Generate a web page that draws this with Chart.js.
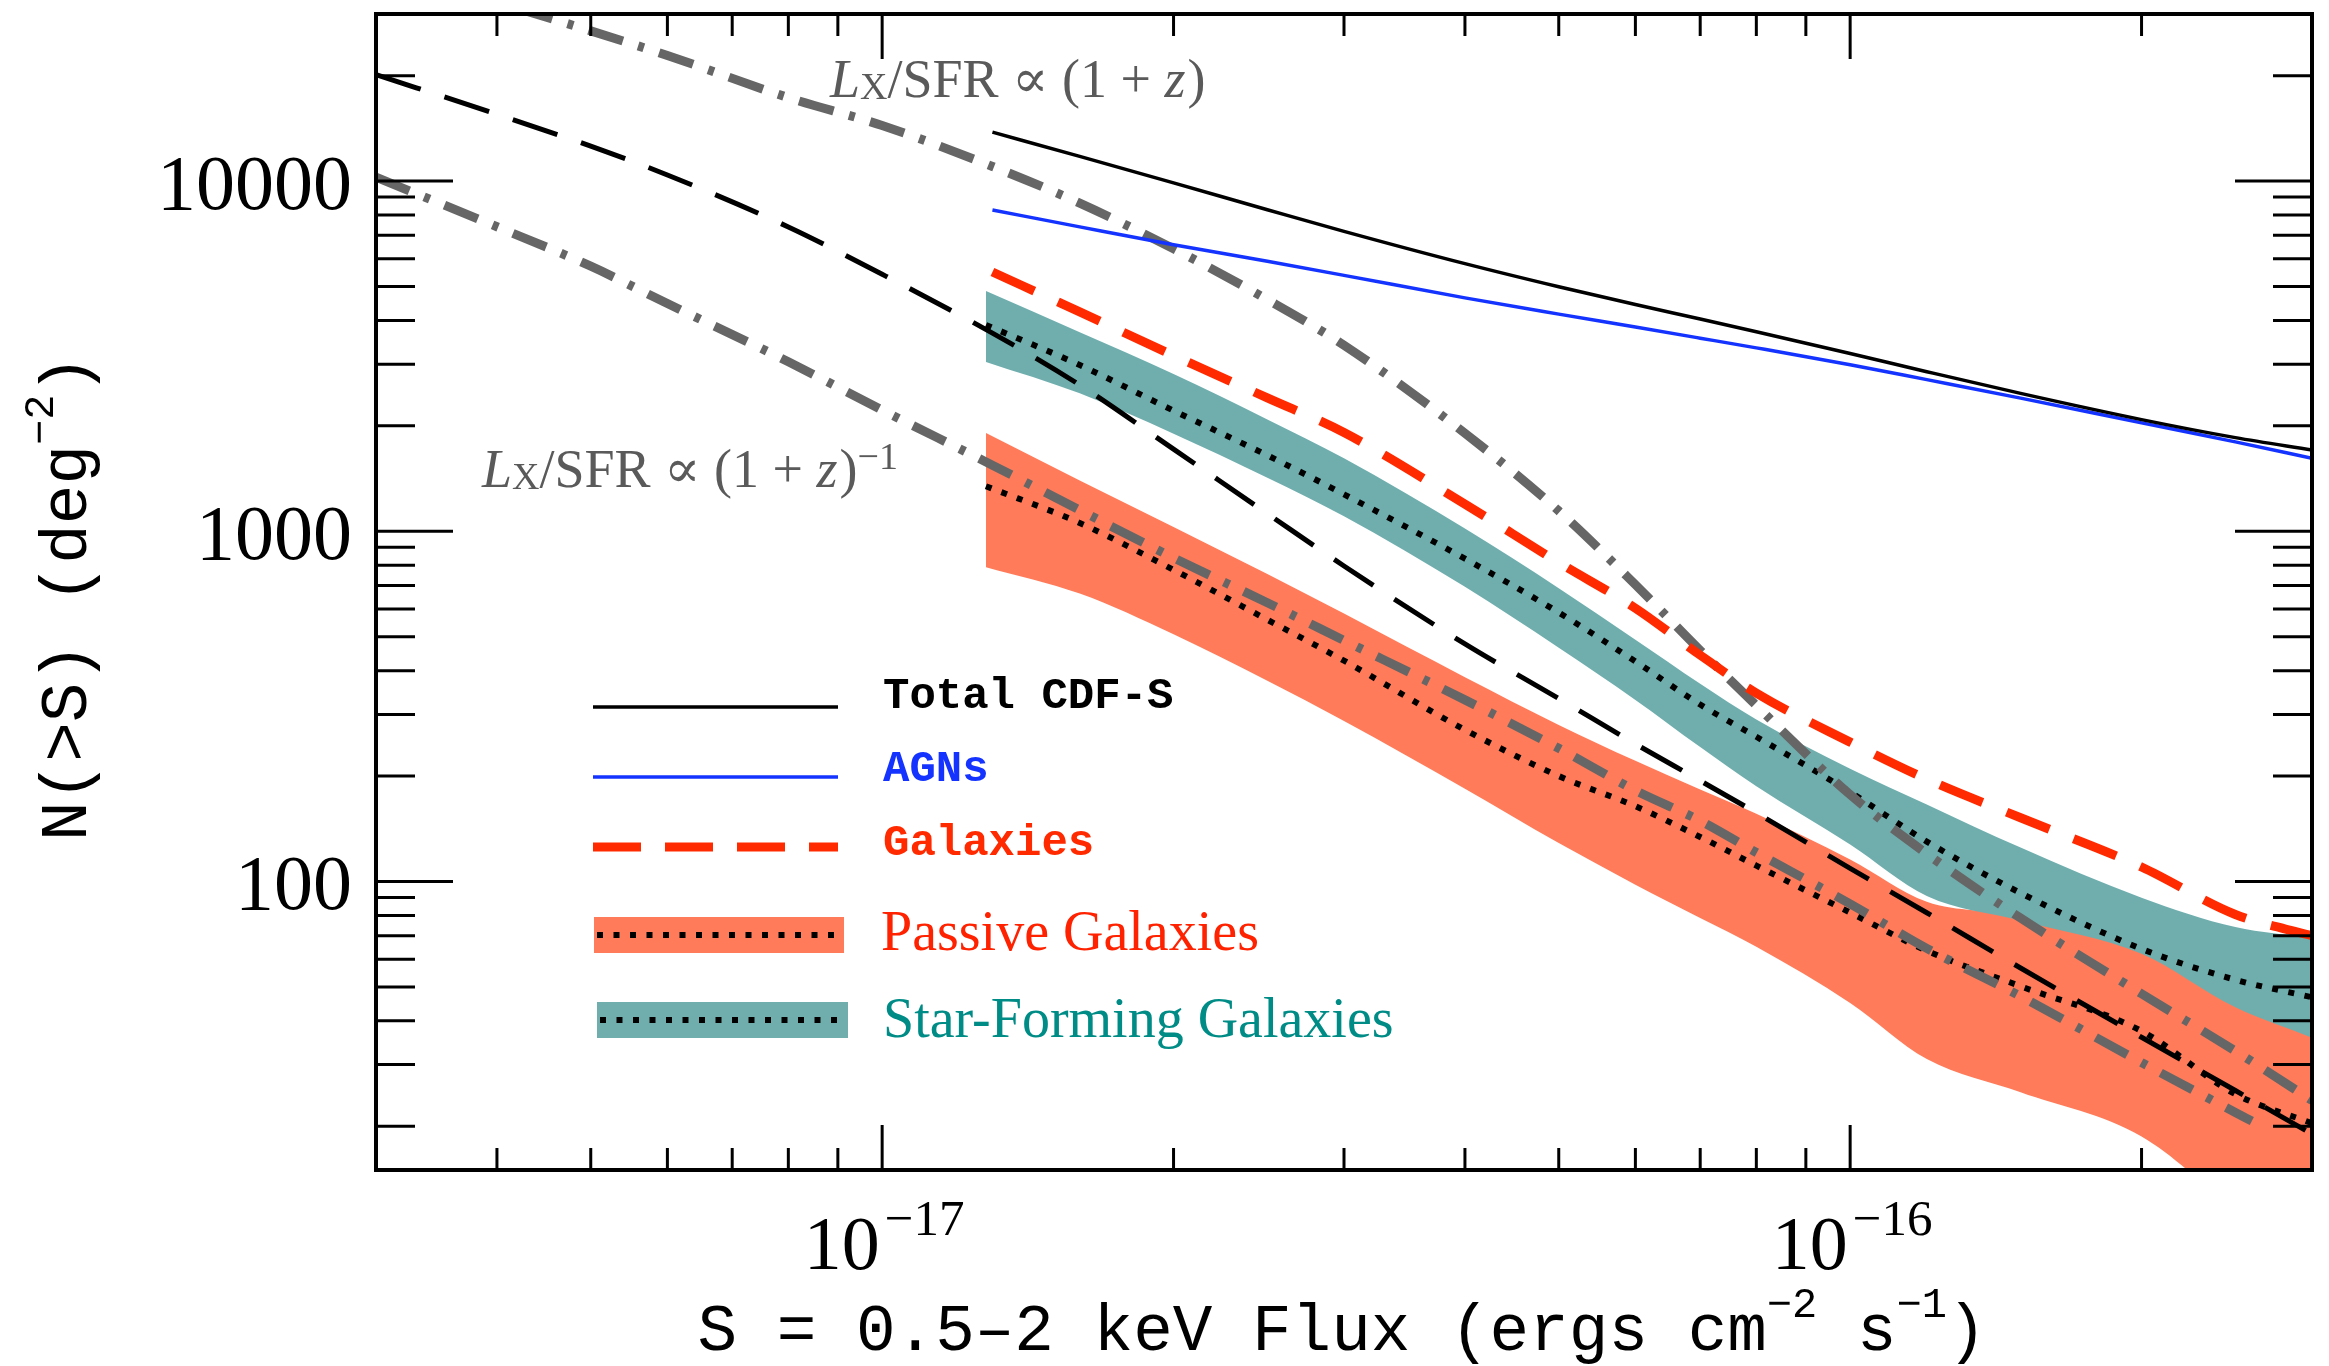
<!DOCTYPE html>
<html>
<head>
<meta charset="utf-8">
<title>N(>S) 0.5-2 keV</title>
<script src="https://cdn.jsdelivr.net/npm/chart.js@4.4.1/dist/chart.umd.min.js"></script>
<style>
  html, body { margin: 0; padding: 0; background: #fff; overflow: hidden; }
  canvas { display: block; }
</style>
</head>
<body>
<canvas id="nsPlot" width="2329" height="1366"></canvas>
<script>
// flux grids, erg cm^-2 s^-1
var fluxModel = [3e-18, 4e-18, 5e-18, 6e-18, 8e-18, 1e-17, 1.3e-17, 1.6e-17, 2e-17, 2.5e-17, 3e-17, 4e-17,
                 5e-17, 6e-17, 7e-17, 8e-17, 1e-16, 1.2e-16, 1.5e-16, 2e-16, 2.5e-16, 3e-16];
var fluxLowZ  = [3e-18, 4e-18, 5e-18, 6e-18, 8e-18, 1e-17, 1.3e-17, 1.6e-17, 2e-17, 2.5e-17, 3e-17, 4e-17,
                 5e-17, 6e-17, 7e-17, 8e-17, 1e-16, 1.2e-16, 1.5e-16, 2e-16, 2.5e-16, 2.6e-16];
var fluxObs   = [1.3e-17, 1.6e-17, 2e-17, 2.5e-17, 3e-17, 4e-17, 5e-17, 6e-17, 7e-17, 8e-17,
                 1e-16, 1.2e-16, 1.5e-16, 2e-16, 2.5e-16, 3e-16];
var fluxBand  = [1.28e-17, 1.6e-17, 2e-17, 2.5e-17, 3e-17, 4e-17, 5e-17, 6e-17, 7e-17, 8e-17,
                 1e-16, 1.2e-16, 1.5e-16, 2e-16, 2.5e-16, 3e-16];

// N(>S), deg^-2
var totalCDFS = [13800, 11760, 9880, 8285, 7185, 5810, 4990, 4440, 4040, 3715, 3220, 2856, 2476, 2084, 1851, 1706];
var agnCounts = [8270, 7400, 6580, 5900, 5380, 4640, 4170, 3830, 3560, 3340, 2990, 2710, 2400, 2040, 1800, 1615];
var galCounts = [5500, 4230, 3175, 2404, 1914, 1196, 814, 603, 443, 345, 250, 196, 152, 110, 80.5, 70];

var passiveLo  = [790, 664, 508, 374, 287, 184, 128.7, 97.9, 78.7, 65.1, 45.0, 31.1, 25.0, 18.7, 11.5, 7.7];
var passiveHi  = [1910, 1397, 1029, 755, 582, 383, 280, 221, 183, 156, 115.5, 87.5, 80, 64.4, 45.2, 37.1];
var passiveMid = [1345, 1056, 776, 559, 427, 271, 200, 164, 134, 111, 81.5, 63.4, 50.2, 37.4, 24.7, 20.4];

var sfLo  = [3045, 2477, 1899, 1422, 1104, 694, 465, 330, 242, 187, 127.5, 90.9, 77.3, 62.2, 43.7, 35.8];
var sfHi  = [4856, 3701, 2814, 2087, 1617, 1018, 688, 490, 367, 290, 210, 166, 125, 89.9, 74.1, 68.9];
var sfMid = [3884, 2983, 2210, 1648, 1275, 835, 586, 425, 320, 259, 180, 130, 92.7, 64.2, 52.4, 46.7];

var lxSfrConst = [20140, 15520, 12580, 10410, 7396, 5418, 3680, 2617, 1716, 1123, 796, 477, 333, 247, 194, 157,
                  109, 81.4, 56.6, 35.9, 25.3, 19.0];
var lxSfrUp    = [41060, 32420, 26850, 22840, 17310, 14410, 11010, 8648, 6409, 4588, 3398, 1905, 1143, 704, 457, 318,
                  177, 120, 78.6, 47.8, 32.8, 23.7];
var lxSfrDown  = [10260, 7406, 5713, 4469, 3048, 2218, 1544, 1149, 840, 625, 488, 330, 240, 182, 149, 121,
                  86.3, 64.4, 47, 30.4, 21.9, 20.7];

// axis ticks
var xMajorTicks = [1e-17, 1e-16];
var xTickExp = ['\u221217', '\u221216'];
var xMinorTicks = [4e-18, 5e-18, 6e-18, 7e-18, 8e-18, 9e-18, 2e-17, 3e-17, 4e-17, 5e-17, 6e-17, 7e-17, 8e-17, 9e-17, 2e-16];
var yMajorTicks = [100, 1000, 10000];
var yTickLabels = ['100', '1000', '10000'];
var yMinorTicks = [20, 30, 40, 50, 60, 70, 80, 90, 200, 300, 400, 500, 600, 700, 800, 900,
                   2000, 3000, 4000, 5000, 6000, 7000, 8000, 9000, 20000];

var ORANGE = '#ff7b5a', TEAL = '#70aeae', RED = '#ff2a00', BLUE = '#1433ff', GRAY = '#666666';
var SERIF = '"Liberation Serif", "DejaVu Serif", serif';
var MONO = '"Liberation Mono", "DejaVu Sans Mono", monospace';
var DOTS = [6, 10.5];

function pts(xs, ys) {
  return xs.map(function (x, i) { return { x: x, y: ys[i] }; });
}

function drawParts(ctx, parts, x, y, align) {
  var w = 0;
  parts.forEach(function (p) {
    ctx.font = p.font;
    p.w = ctx.measureText(p.text).width + (p.gap || 0);
    w += p.w;
  });
  var cx = align === 'center' ? x - w / 2 : (align === 'right' ? x - w : x);
  parts.forEach(function (p) {
    ctx.font = p.font;
    ctx.fillStyle = p.color || '#000';
    ctx.fillText(p.text, cx, y + (p.dy || 0));
    cx += p.w;
  });
}

function seg(ctx, x1, y1, x2, y2) {
  ctx.beginPath();
  ctx.moveTo(x1, y1);
  ctx.lineTo(x2, y2);
  ctx.stroke();
}

var framePlugin = {
  id: 'framePlugin',
  beforeDraw: function (chart) {
    var ctx = chart.ctx;
    ctx.save();
    ctx.fillStyle = '#fff';
    ctx.fillRect(0, 0, chart.width, chart.height);
    ctx.restore();
  },
  afterDraw: function (chart) {
    var ctx = chart.ctx, a = chart.chartArea, xs = chart.scales.x, ys = chart.scales.y;
    ctx.save();
    ctx.textAlign = 'left';
    ctx.textBaseline = 'alphabetic';

    // inward ticks on all four sides
    ctx.strokeStyle = '#000';
    ctx.lineWidth = 3;
    ctx.setLineDash([]);
    xMinorTicks.forEach(function (v) {
      var px = xs.getPixelForValue(v);
      seg(ctx, px, a.bottom, px, a.bottom - 22);
      seg(ctx, px, a.top, px, a.top + 22);
    });
    xMajorTicks.forEach(function (v) {
      var px = xs.getPixelForValue(v);
      seg(ctx, px, a.bottom, px, a.bottom - 45);
      seg(ctx, px, a.top, px, a.top + 45);
    });
    yMinorTicks.forEach(function (v) {
      var py = ys.getPixelForValue(v);
      seg(ctx, a.left, py, a.left + 39, py);
      seg(ctx, a.right, py, a.right - 39, py);
    });
    yMajorTicks.forEach(function (v) {
      var py = ys.getPixelForValue(v);
      seg(ctx, a.left, py, a.left + 77, py);
      seg(ctx, a.right, py, a.right - 77, py);
    });
    ctx.lineWidth = 4;
    ctx.strokeRect(a.left, a.top, a.right - a.left, a.bottom - a.top);

    // tick labels
    yMajorTicks.forEach(function (v, i) {
      var py = ys.getPixelForValue(v);
      drawParts(ctx, [{ text: yTickLabels[i], font: '78px ' + SERIF }], a.left - 24, py + 28, 'right');
    });
    xMajorTicks.forEach(function (v, i) {
      var px = xs.getPixelForValue(v);
      drawParts(ctx, [
        { text: '10', font: '76px ' + SERIF, gap: 5 },
        { text: xTickExp[i], font: '51px ' + SERIF, dy: -34 }
      ], px + 2, a.bottom + 99, 'center');
    });

    // axis titles
    drawParts(ctx, [
      { text: 'S = 0.5\u20132 keV Flux (ergs cm', font: '66px ' + MONO },
      { text: '\u22122', font: '42px ' + MONO, dy: -33 },
      { text: ' s', font: '66px ' + MONO },
      { text: '\u22121', font: '42px ' + MONO, dy: -33 },
      { text: ')', font: '66px ' + MONO }
    ], 1342, 1350, 'center');

    ctx.save();
    ctx.translate(86, 598);
    ctx.rotate(-Math.PI / 2);
    drawParts(ctx, [
      { text: 'N(>S) (deg', font: '66px ' + MONO },
      { text: '\u22122', font: '42px ' + MONO, dy: -33 },
      { text: ')', font: '66px ' + MONO }
    ], 0, 0, 'center');
    ctx.restore();

    // model annotations
    var annGray = '#5a5a5a';
    function lxParts(extra) {
      var p = [
        { text: 'L', font: 'italic 54px ' + SERIF, color: annGray },
        { text: 'X', font: '38px ' + SERIF, color: annGray, dy: 2 },
        { text: '/SFR \u221d (1 + ', font: '54px ' + SERIF, color: annGray },
        { text: 'z', font: 'italic 54px ' + SERIF, color: annGray, gap: 2 },
        { text: ')', font: '54px ' + SERIF, color: annGray }
      ];
      return p.concat(extra);
    }
    drawParts(ctx, lxParts([]), 830, 97, 'left');
    drawParts(ctx, lxParts([{ text: '\u22121', font: '38px ' + SERIF, color: annGray, dy: -18 }]), 482, 487, 'left');

    // legend
    ctx.lineCap = 'butt';
    ctx.strokeStyle = '#000';
    ctx.lineWidth = 3.5;
    seg(ctx, 593, 707, 838, 707);
    ctx.strokeStyle = BLUE;
    seg(ctx, 593, 777, 838, 777);
    ctx.strokeStyle = RED;
    ctx.lineWidth = 9;
    ctx.setLineDash([48, 24]);
    seg(ctx, 593, 847, 838, 847);
    ctx.setLineDash([]);

    ctx.fillStyle = ORANGE;
    ctx.fillRect(594, 917, 250, 36);
    ctx.fillStyle = TEAL;
    ctx.fillRect(597, 1002, 251, 36);
    ctx.strokeStyle = '#000';
    ctx.lineWidth = 6;
    ctx.setLineDash(DOTS);
    seg(ctx, 597, 935, 842, 935);
    seg(ctx, 600, 1020, 845, 1020);
    ctx.setLineDash([]);

    drawParts(ctx, [{ text: 'Total CDF-S', font: 'bold 44px ' + MONO, color: '#000' }], 883, 708, 'left');
    drawParts(ctx, [{ text: 'AGNs', font: 'bold 44px ' + MONO, color: BLUE }], 883, 781, 'left');
    drawParts(ctx, [{ text: 'Galaxies', font: 'bold 44px ' + MONO, color: RED }], 883, 855, 'left');
    drawParts(ctx, [{ text: 'Passive Galaxies', font: '56px ' + SERIF, color: '#ff2200' }], 881, 950, 'left');
    drawParts(ctx, [{ text: 'Star-Forming Galaxies', font: '56px ' + SERIF, color: '#008c86' }], 883, 1037, 'left');

    ctx.restore();
  }
};

var noLine = 'rgba(0,0,0,0)';
var datasets = [
  { label: 'Passive lower', data: pts(fluxBand, passiveLo), borderColor: noLine, borderWidth: 1, fill: false, order: 20 },
  { label: 'Passive Galaxies', data: pts(fluxBand, passiveHi), borderColor: noLine, borderWidth: 1,
    backgroundColor: ORANGE, fill: '-1', order: 19 },
  { label: 'SF lower', data: pts(fluxBand, sfLo), borderColor: noLine, borderWidth: 1, fill: false, order: 18 },
  { label: 'Star-Forming Galaxies', data: pts(fluxBand, sfHi), borderColor: noLine, borderWidth: 1,
    backgroundColor: TEAL, fill: '-1', order: 17 },
  { label: 'Passive model', data: pts(fluxBand, passiveMid), borderColor: '#000', borderWidth: 6,
    borderDash: DOTS, fill: false, order: 8 },
  { label: 'SF model', data: pts(fluxBand, sfMid), borderColor: '#000', borderWidth: 6,
    borderDash: DOTS, fill: false, order: 7 },
  { label: 'LX/SFR const', data: pts(fluxModel, lxSfrConst), borderColor: '#000', borderWidth: 5,
    borderDash: [47, 25], fill: false, order: 6 },
  { label: 'LX/SFR (1+z)^-1', data: pts(fluxLowZ, lxSfrDown), borderColor: GRAY, borderWidth: 9,
    borderDash: [36, 16, 6, 16], fill: false, order: 5 },
  { label: 'LX/SFR (1+z)', data: pts(fluxModel, lxSfrUp), borderColor: GRAY, borderWidth: 9,
    borderDash: [36, 16, 6, 16], fill: false, order: 4 },
  { label: 'Galaxies', data: pts(fluxObs, galCounts), borderColor: RED, borderWidth: 9,
    borderDash: [46, 26], fill: false, order: 3 },
  { label: 'AGNs', data: pts(fluxObs, agnCounts), borderColor: BLUE, borderWidth: 3.5, fill: false, order: 2 },
  { label: 'Total CDF-S', data: pts(fluxObs, totalCDFS), borderColor: '#000', borderWidth: 3.5, fill: false, order: 1 }
];

var chart = new Chart(document.getElementById('nsPlot'), {
  type: 'line',
  data: { datasets: datasets },
  options: {
    responsive: false,
    animation: false,
    devicePixelRatio: 1,
    layout: { padding: { left: 376, right: 17, top: 14, bottom: 196 } },
    scales: {
      x: { type: 'logarithmic', min: 3e-18, max: 3e-16, display: false },
      y: { type: 'logarithmic', min: 15, max: 30000, display: false }
    },
    elements: {
      point: { radius: 0 },
      line: { cubicInterpolationMode: 'monotone', borderCapStyle: 'butt' }
    },
    plugins: {
      legend: { display: false },
      tooltip: { enabled: false }
    }
  },
  plugins: [framePlugin]
});
</script>
</body>
</html>
